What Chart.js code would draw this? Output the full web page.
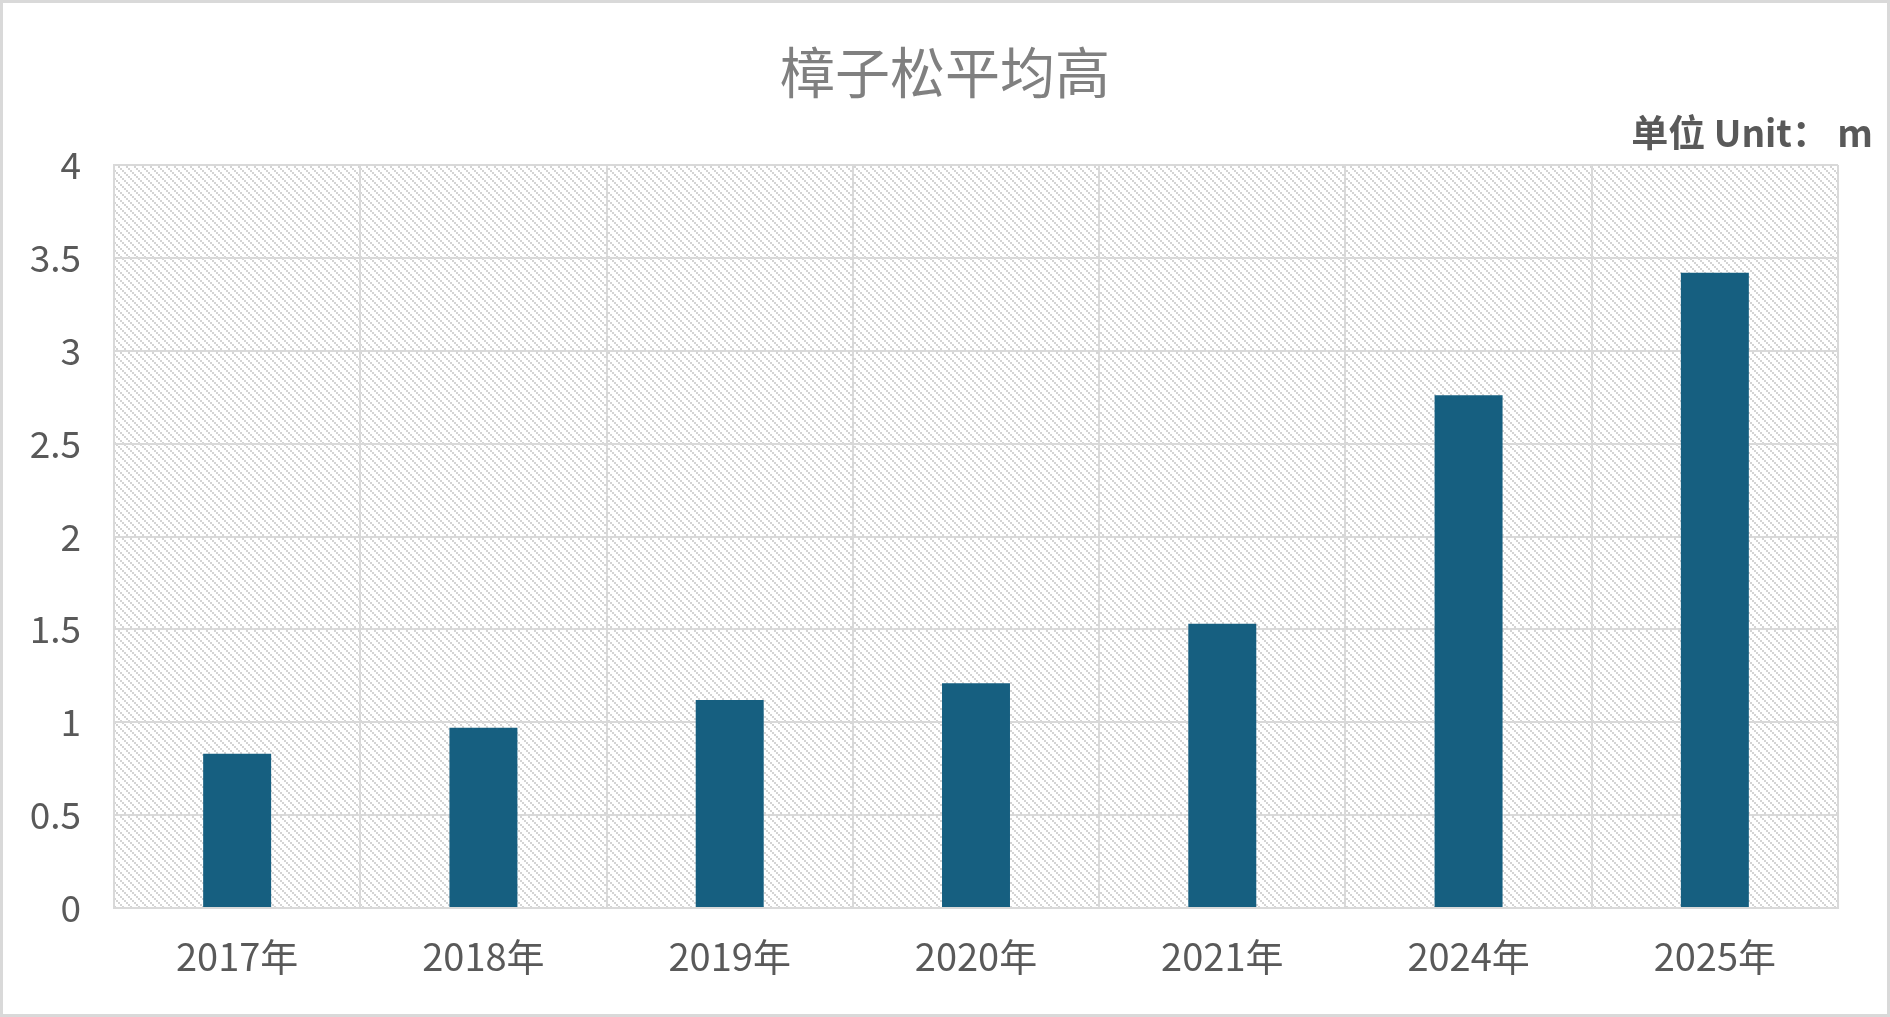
<!DOCTYPE html>
<html>
<head>
<meta charset="utf-8">
<script src="https://cdn.jsdelivr.net/npm/chart.js@4"></script>
<style>
  html, body { margin: 0; padding: 0; background: #fff; }
  #wrap { width: 1890px; height: 1017px; }
</style>
</head>
<body>
<div id="wrap"><canvas id="heightChart" width="1890" height="1017"></canvas></div>
<script>
const years = ['2017年', '2018年', '2019年', '2020年', '2021年', '2024年', '2025年'];
const avgHeight = [0.83, 0.97, 1.12, 1.21, 1.53, 2.76, 3.42];
const chartTitle = '樟子松平均高';
const unitLabel = '单位 Unit： m';

const FONT = '"Noto Sans CJK SC", "Noto Sans", sans-serif';

// diagonal dotted hatch used behind the bars
function makeHatch() {
  const tile = document.createElement('canvas');
  tile.width = 8; tile.height = 8;
  const t = tile.getContext('2d');
  t.fillStyle = '#ffffff';
  t.fillRect(0, 0, 8, 8);
  t.fillStyle = '#d4d4d4';
  for (let k = 0; k < 4; k++) t.fillRect(k * 2, k * 2, 2, 2);
  return t.createPattern(tile, 'repeat');
}

const decor = {
  id: 'decor',
  beforeDraw(chart) {
    const ctx = chart.ctx;
    const a = chart.chartArea;
    ctx.save();
    ctx.fillStyle = '#ffffff';
    ctx.fillRect(0, 0, chart.width, chart.height);
    ctx.fillStyle = makeHatch();
    ctx.fillRect(a.left, a.top, a.right - a.left, a.bottom - a.top);
    ctx.restore();
  },
  afterDraw(chart) {
    const ctx = chart.ctx;
    ctx.save();
    ctx.fillStyle = '#808080';
    ctx.font = '55px ' + FONT;
    ctx.textAlign = 'center';
    ctx.textBaseline = 'middle';
    ctx.fillText(chartTitle, chart.width / 2, 72);
    ctx.fillStyle = '#595959';
    ctx.font = 'bold 37px ' + FONT;
    ctx.textAlign = 'right';
    ctx.fillText(unitLabel, 1873, 133);
    ctx.strokeStyle = '#d9d9d9';
    ctx.lineWidth = 3;
    ctx.strokeRect(1.5, 1.5, chart.width - 3, chart.height - 3);
    ctx.restore();
  }
};

new Chart(document.getElementById('heightChart').getContext('2d'), {
  type: 'bar',
  data: {
    labels: years,
    datasets: [{
      data: avgHeight,
      backgroundColor: '#165f80',
      barPercentage: 0.276,
      categoryPercentage: 1.0
    }]
  },
  options: {
    responsive: false,
    animation: false,
    layout: { padding: { top: 165, right: 52, bottom: 0, left: 0 } },
    plugins: {
      legend: { display: false },
      title: { display: false },
      tooltip: { enabled: false }
    },
    scales: {
      x: {
        afterFit(scale) { scale.height = 109; },
        grid: { offset: true, color: '#d9d9d9', lineWidth: 2, drawTicks: false },
        border: { color: '#d9d9d9', width: 2 },
        ticks: { color: '#595959', font: { family: FONT, size: 38 }, padding: 26 }
      },
      y: {
        min: 0,
        max: 4,
        afterFit(scale) { scale.width = 114; },
        grid: { color: '#d9d9d9', lineWidth: 2, drawTicks: false },
        border: { color: '#d9d9d9', width: 2 },
        ticks: {
          stepSize: 0.5,
          color: '#595959',
          font: { family: FONT, size: 37 },
          padding: 33,
          callback: v => String(v)
        }
      }
    }
  },
  plugins: [decor]
});
</script>
</body>
</html>
